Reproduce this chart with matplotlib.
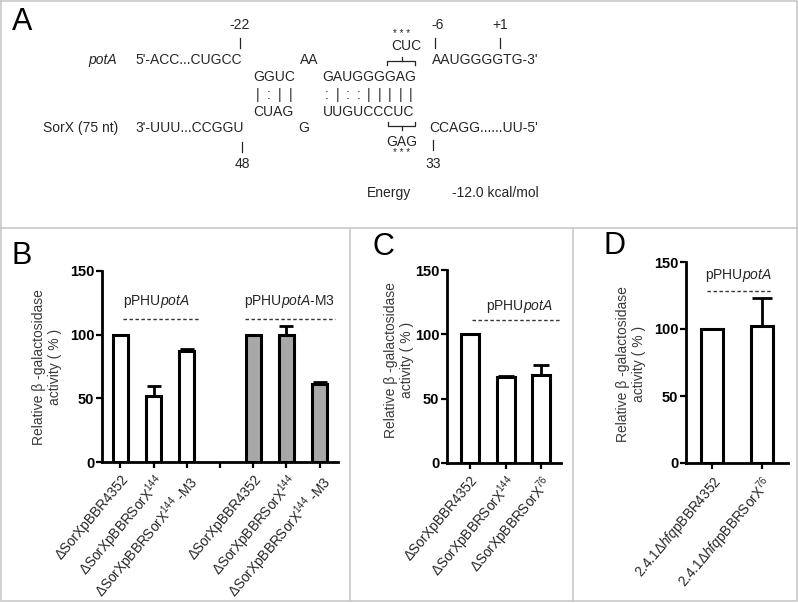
import matplotlib
matplotlib.use('Agg')
import matplotlib.pyplot as plt
from matplotlib.lines import Line2D

plt.rcParams['font.family'] = ['Liberation Sans', 'DejaVu Sans']
plt.rcParams['mathtext.fontset'] = 'custom'
plt.rcParams['mathtext.rm'] = 'Liberation Sans'
plt.rcParams['mathtext.it'] = 'Liberation Sans:italic'
plt.rcParams['mathtext.bf'] = 'Liberation Sans:bold'

# ---------------- data ----------------
b_labels = ['ΔSorXpBBR4352', r'ΔSorXpBBRSor$\mathrm{X}^{144}$', r'ΔSorXpBBRSor$\mathrm{X}^{144}$ -M3', '',
            'ΔSorXpBBR4352', r'ΔSorXpBBRSor$\mathrm{X}^{144}$', r'ΔSorXpBBRSor$\mathrm{X}^{144}$ -M3']
b_white_values = [100, 52, 87]
b_white_err = [0, 8, 1.5]
b_grey_values = [100, 100, 61]
b_grey_err = [0, 6.5, 1.5]

c_labels = ['ΔSorXpBBR4352', r'ΔSorXpBBRSor$\mathrm{X}^{144}$', r'ΔSorXpBBRSor$\mathrm{X}^{76}$']
c_values = [100, 66.5, 68.5]
c_err = [0, 0.8, 7.5]

d_labels = [r'2.4.1Δ$\mathit{hfq}$pBBR4352', r'2.4.1Δ$\mathit{hfq}$pBBRSor$\mathrm{X}^{76}$']
d_values = [100, 102]
d_err = [0, 21]

yticks = [0, 50, 100, 150]
ylabel = 'Relative β -galactosidase\nactivity ( % )'
plasmid = r'pPHU$\mathit{potA}$'
plasmid_m3 = r'pPHU$\mathit{potA}$-M3'

W, H = 798, 603
fig = plt.figure(figsize=(W / 100, H / 100), dpi=100)


def fx(x):
    return x / W


def fy(y):
    return 1 - y / H


TXT = '#262626'


def T(x, y, s, ha='left', size=10, **kw):
    fig.text(fx(x), fy(y), s, ha=ha, va='center', fontsize=size, color=kw.pop('color', TXT), **kw)


def L(xs, ys, color=TXT, lw=0.9):
    fig.add_artist(Line2D([fx(v) for v in xs], [fy(v) for v in ys], color=color, lw=lw))


# ---------------- borders ----------------
BC = '#c8c8c8'
L([1, 797, 797, 1, 1], [1, 1, 601, 601, 1], color=BC, lw=1.2)
L([1, 797], [228, 228], color=BC, lw=1.2)
L([350, 350], [228, 601], color=BC, lw=1.2)
L([573, 573], [228, 601], color=BC, lw=1.2)

# ---------------- panel A ----------------
T(12, 22, 'A', size=22, color='black')
T(240, 25, '-22', ha='center')
L([240, 240], [38, 48])
T(117, 60, 'potA', ha='right', style='italic')
T(135, 60, "5'-ACC...CUGCC")
T(300, 60, 'AA')
T(402, 34, '* * *', ha='center', size=7)
T(406, 46, 'CUC', ha='center')
L([387, 387, 415, 415], [65, 61, 61, 65])
L([402, 402], [61, 57])
T(438, 25, '-6', ha='center')
L([435, 435], [38, 48])
T(500, 25, '+1', ha='center')
L([500.5, 500.5], [38, 48])
T(432, 60, "AAUGGGGTG-3'")
T(253, 77, 'GGUC')
T(322, 77, 'GAUGGGGAG')
for x, s in zip([258, 269, 280, 291], ['|', ':', '|', '|']):
    T(x, 95, s, ha='center')
for x, s in zip([327, 337.5, 348, 358.5, 369, 379.5, 390, 400.5, 411],
                [':', '|', ':', ':', '|', '|', '|', '|', '|']):
    T(x, 95, s, ha='center')
T(253, 112, 'CUAG')
T(323, 112, 'UUGUCCCUC')
T(118, 128, 'SorX (75 nt)', ha='right')
T(135, 128, "3'-UUU...CCGGU")
T(298, 128, 'G')
T(429, 128, "CCAGG......UU-5'")
L([388, 388, 415, 415], [122, 126, 126, 122])
L([402, 402], [126, 130])
T(402, 142, 'GAG', ha='center')
T(402, 153, '* * *', ha='center', size=7)
L([242, 242], [142, 152])
T(242, 164, '48', ha='center')
L([433, 433], [140, 150])
T(433, 164, '33', ha='center')
T(367, 193, 'Energy')
T(452, 193, '-12.0 kcal/mol')


# ---------------- bar panels ----------------
def setup_axes(ax, xlim):
    ax.set_ylim(0, 150)
    ax.set_xlim(*xlim)
    ax.set_yticks(yticks)
    ax.set_yticklabels([str(v) for v in yticks], fontweight='bold', fontsize=10.5)
    for s in ['top', 'right']:
        ax.spines[s].set_visible(False)
    for s in ['left', 'bottom']:
        ax.spines[s].set_linewidth(2.0)
    ax.tick_params(axis='both', direction='out', length=4.5, width=1.6, colors='black')
    ax.tick_params(axis='y', pad=1)
    ax.tick_params(axis='x', pad=3)
    ax.patch.set_alpha(0)


def bars(ax, pos, vals, errs, color, width, cap):
    ax.errorbar(pos, vals, yerr=[[0] * len(errs), errs], fmt='none', ecolor='black',
                elinewidth=2, capsize=cap, capthick=2, zorder=2)
    ax.bar(pos, vals, width=width, color=color, edgecolor='black', linewidth=2.2, zorder=3)


def xlabels(ax, pos, labels):
    ax.set_xticks(pos)
    ax.set_xticklabels(labels, rotation=50, ha='right', rotation_mode='anchor', fontsize=9.8, color=TXT)


def dashed(ax, x0, x1, y, text, tx, ty):
    ax.plot([x0, x1], [y, y], color='#333333', lw=1.0, linestyle=(0, (2.5, 1.8)), clip_on=False)
    ax.text(tx, ty, text, ha='center', va='center', fontsize=10, color=TXT)


def ylab(x, y):
    fig.text(fx(x), fy(y), ylabel, rotation=90, ha='center', va='center', fontsize=10,
             color='#3a3a3a', multialignment='center', linespacing=1.15)


# Panel B
axB = fig.add_axes([fx(102), fy(462), (338 - 102) / W, (462 - 271) / H])
setup_axes(axB, (-0.55, 6.55))
bars(axB, [0, 1, 2], b_white_values, b_white_err, 'white', 0.44, 5)
bars(axB, [4, 5, 6], b_grey_values, b_grey_err, '#a8a8a8', 0.44, 5)
xlabels(axB, list(range(7)), b_labels)
dashed(axB, 0.09, 2.4, 112.5, plasmid, 1.1, 126)
dashed(axB, 3.75, 6.45, 112.5, plasmid_m3, 5.1, 126)
T(12, 256, 'B', size=22, color='black')
ylab(47, 367)

# Panel C
axC = fig.add_axes([fx(447), fy(463), (561 - 447) / W, (463 - 270) / H])
setup_axes(axC, (-0.64, 2.55))
bars(axC, [0, 1, 2], c_values, c_err, 'white', 0.5, 5.5)
xlabels(axC, [0, 1, 2], c_labels)
dashed(axC, 0.06, 2.51, 111, plasmid, 1.4, 122)
T(373, 247, 'C', size=22, color='black')
ylab(399, 360)

# Panel D
axD = fig.add_axes([fx(686), fy(463), (788 - 686) / W, (463 - 262) / H])
setup_axes(axD, (-0.52, 1.53))
bars(axD, [0, 1], d_values, d_err, 'white', 0.44, 7)
xlabels(axD, [0, 1], d_labels)
dashed(axD, -0.09, 1.2, 128.5, plasmid, 0.53, 140)
T(603, 246, 'D', size=22, color='black')
ylab(631, 364)

fig.savefig('out.png', dpi=100)
